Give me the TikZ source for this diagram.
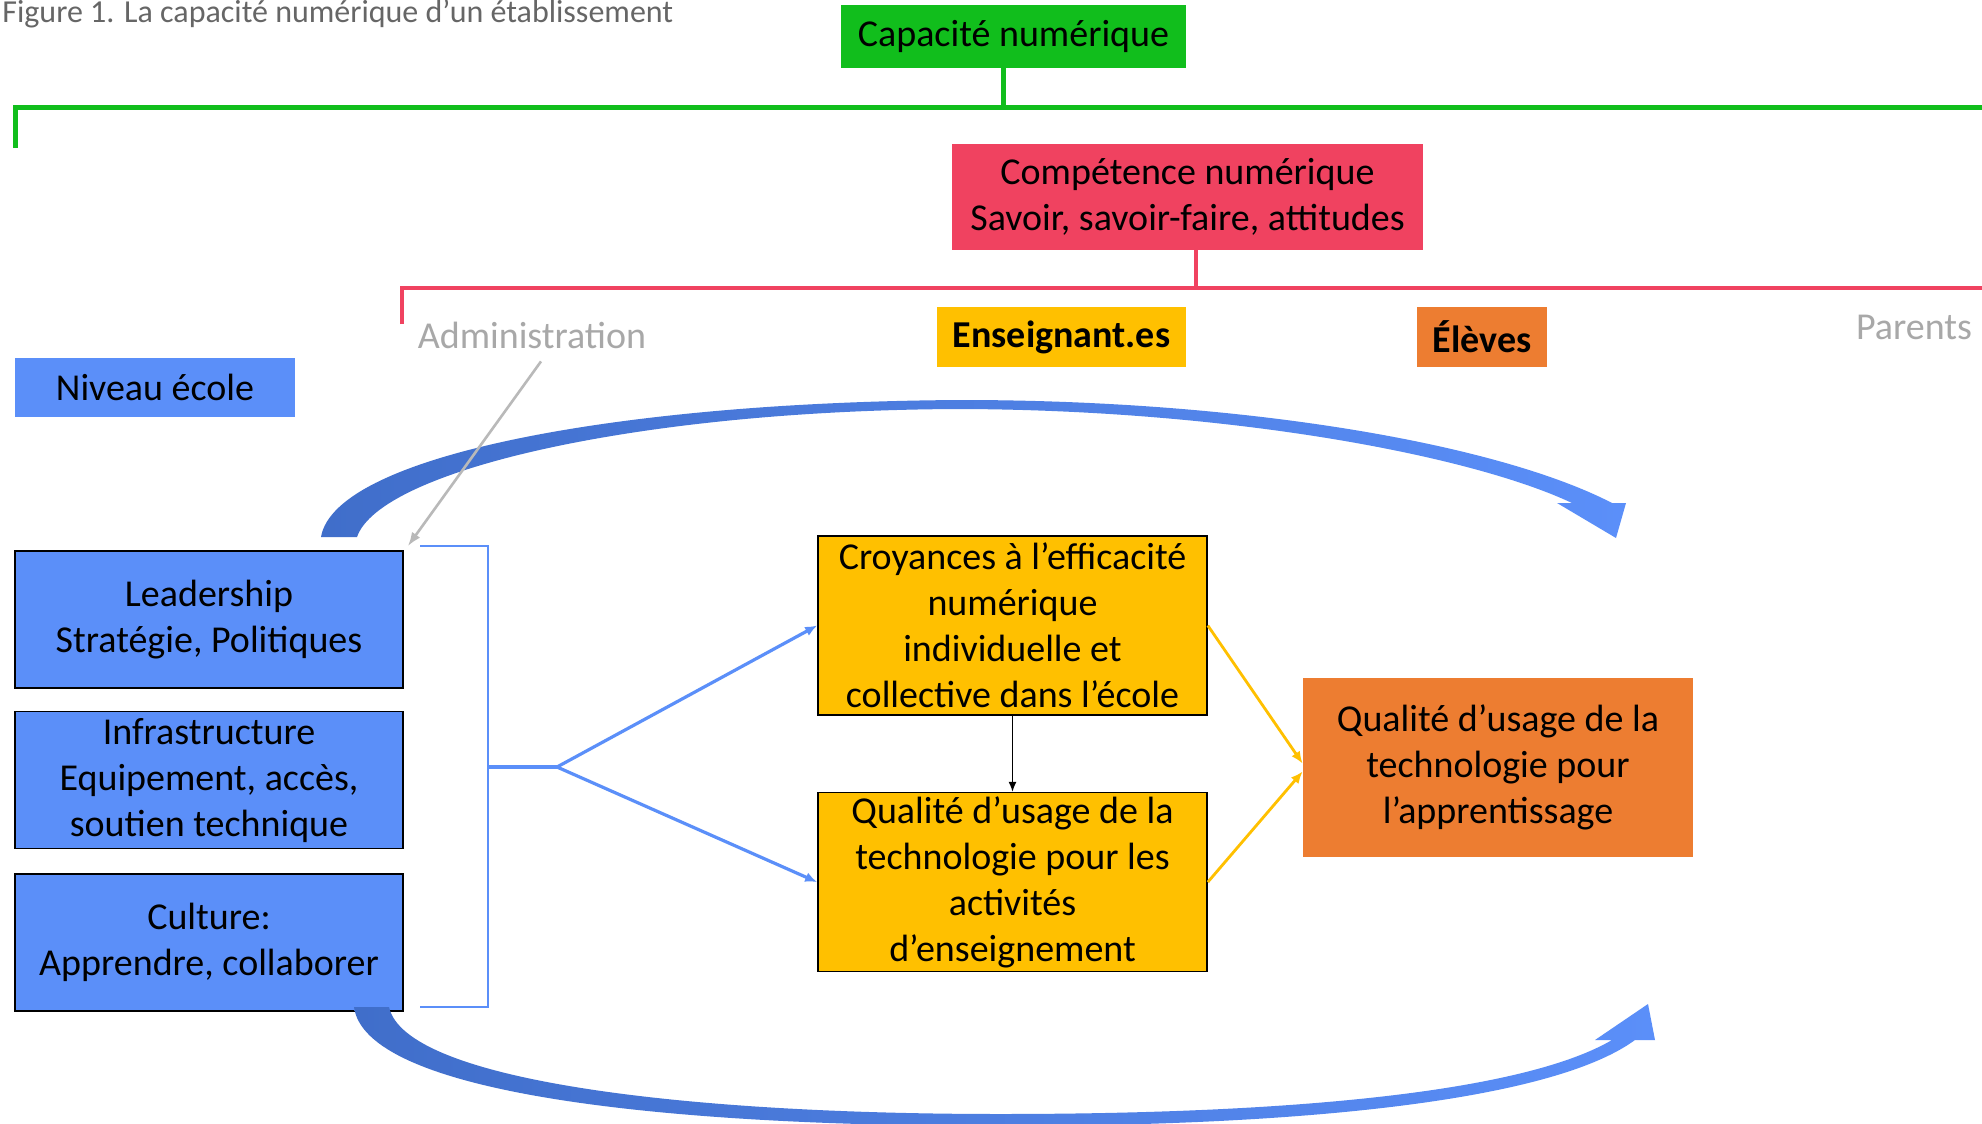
\documentclass[tikz,border=0pt]{standalone}
\usepackage{fontspec}
\setmainfont{Carlito}
\usepackage{xcolor}
\usetikzlibrary{positioning,arrows.meta}
\definecolor{cgreen}{RGB}{17,190,28}
\definecolor{cred}{RGB}{240,66,96}
\definecolor{cyellow}{RGB}{255,192,0}
\definecolor{corange}{RGB}{237,125,49}
\definecolor{cblue}{RGB}{91,143,249}
\definecolor{cbluedark}{RGB}{64,110,202}
\definecolor{cgray}{RGB}{168,168,168}

\begin{document}
\begin{tikzpicture}[x=0.5pt,y=-0.5pt]
  \tikzset{
    label box/.style={fill=#1,align=center,inner sep=0pt,font=\fontsize{19}{23}\selectfont},
    level box/.style={label box=cblue,draw=black,line width=0.8pt,minimum width=194pt,minimum height=68.5pt},
    usage box/.style={label box=cyellow,draw=black,line width=0.8pt,minimum width=194.5pt,minimum height=89.5pt},
    actor text/.style={text=cgray,font=\fontsize{19}{23}\selectfont},
    fork arrow/.style={draw=cblue,line width=1.6pt,-{Latex[length=6pt,width=5pt]}},
  }
  \path[use as bounding box,fill=white] (0,0) rectangle (1982,1124);

  \node[anchor=base west,inner sep=0pt,text=black!60,font=\fontsize{16}{19}\selectfont] (caption) at (2,22) {Figure 1. La capacité numérique d'un établissement};

  % capacity tree
  \node[label box=cgreen,minimum width=172.5pt,minimum height=31.5pt] (capa) at (1013.5,36.5) {Capacité numérique};
  \node[label box=cred,minimum width=235.5pt,minimum height=53pt] (comp) at (1187.5,197) {Compétence numérique\\Savoir, savoir-faire, attitudes};
  \coordinate (gL) at (15,148);
  \coordinate (gR) at (1982,107);
  \coordinate (rL) at (402,324);
  \coordinate (rR) at (1982,288);
  \draw[cgreen,line width=2.5pt] ([xshift=-5pt]capa.south) -- ([xshift=-5pt]capa.south |- gR);
  \draw[cgreen,line width=2.5pt] (gL) |- (gR);
  \draw[cred,line width=2pt] ([xshift=4pt]comp.south) -- ([xshift=4pt]comp.south |- rR);
  \draw[cred,line width=2pt] (rL) |- (rR);

  % actors
  \node[actor text] (admin) at (532,335) {Administration};
  \node[label box=cyellow,minimum width=124.5pt,minimum height=30pt,font=\fontsize{19}{23}\selectfont\bfseries] (ens) at (1061.5,337) {Enseignant.es};
  \node[label box=corange,minimum width=65pt,minimum height=30pt,font=\fontsize{19}{23}\selectfont\bfseries] (elev) at (1482,337) {Élèves};
  \node[actor text] (parents) at (1914,327) {Parents};

  % school level
  \node[label box=cblue,minimum width=140pt,minimum height=29.5pt] (niveau) at (155,387.5) {Niveau école};
  \node[level box] (lead) at (209,619.5) {Leadership\\Stratégie, Politiques};
  \node[level box,below=11pt of lead] (infra) {Infrastructure\\Equipement, accès,\\soutien technique};
  \node[level box,below=12pt of infra] (cult) {Culture:\\Apprendre, collaborer};

  \node[usage box] (croy) at (1012.5,625.5) {Croyances à l’efficacité\\numérique\\individuelle et\\collective dans l’école};
  \node[usage box,below=38pt of croy] (ensg) {Qualité d’usage de la\\technologie pour les\\activités\\d’enseignement};
  \node[label box=corange,minimum width=195pt,minimum height=89.5pt] (appr) at (1498,767.5) {Qualité d’usage de la\\technologie pour\\l’apprentissage};

  % curved arrows
  \shade[left color=cbluedark,right color=cblue] (321,537) .. controls (335,455) and (620,402) .. (961,400)
    .. controls (1250,400) and (1500,445) .. (1612,503) -- (1626,503) -- (1616,538) -- (1557,503) -- (1572,503)
    .. controls (1470,455) and (1230,410) .. (961,409) .. controls (640,410) and (380,470) .. (357,537) -- cycle;
  \shade[left color=cbluedark,right color=cblue] (354,1007) .. controls (365,1090) and (640,1126) .. (1000,1126)
    .. controls (1340,1126) and (1560,1095) .. (1635,1040) -- (1655,1040) -- (1648,1004) -- (1595,1040) -- (1612,1040)
    .. controls (1530,1088) and (1320,1114) .. (1000,1114) .. controls (680,1114) and (405,1080) .. (389,1007) -- cycle;

  \draw[cgray!80,line width=1.3pt,-{Latex[length=7pt,width=5pt]}] ([xshift=4.5pt,yshift=-3pt]admin.south) -- ([shift={(2pt,2pt)}]lead.north east);

  % bracket and fork
  \coordinate (bT) at (420,546);
  \coordinate (bB) at (420,1007);
  \coordinate (bM) at (488,767);
  \coordinate (fork) at (557,767);
  \draw[cblue,line width=1.4pt] (bT) -| (bM) |- (bB);
  \draw[cblue,line width=1.6pt] (bM) -- (fork);
  \draw[fork arrow] (fork) -- (croy.west);
  \draw[fork arrow] (fork) -- (ensg.west);

  \draw[-{Latex[length=5pt,width=4pt]},line width=0.7pt] (croy.south) -- (ensg.north);
  \draw[cyellow,line width=1.4pt,-{Latex[length=6pt,width=5pt]}] (croy.east) -- ([yshift=2pt]appr.west);
  \draw[cyellow,line width=1.4pt,-{Latex[length=6pt,width=5pt]}] (ensg.east) -- ([yshift=-2pt]appr.west);
\end{tikzpicture}
\end{document}
